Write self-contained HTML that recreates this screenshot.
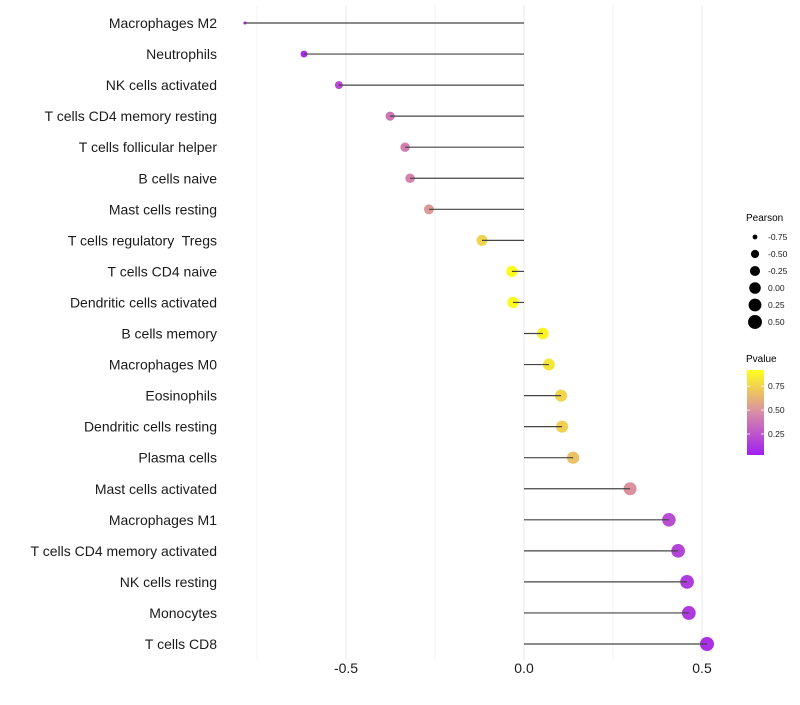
<!DOCTYPE html>
<html><head><meta charset="utf-8"><style>body{margin:0;background:#fff}svg{font-family:"Liberation Sans",sans-serif}text{white-space:pre}</style></head>
<body>
<svg id="chart" width="800" height="700" viewBox="0 0 800 700" xmlns="http://www.w3.org/2000/svg">
<g id="grid"></g>
<g id="pts"></g>
<g id="marks"></g>
<g id="ylab"></g>
<g id="xlab"></g>
<g id="sleg">
<text x="746" y="221" font-size="10" fill="#000">Pearson</text>
</g>
<g>
<defs><linearGradient id="pg" x1="0" y1="1" x2="0" y2="0"><stop offset="0" stop-color="#a01ff2"/><stop offset="0.5" stop-color="#d98ca6"/><stop offset="1" stop-color="#ffff1a"/></linearGradient></defs>
<text x="746" y="362" font-size="10" fill="#000">Pvalue</text>
<rect x="747" y="370" width="17" height="85" fill="url(#pg)"/>
<g id="cleg"></g>
</g>
</svg>
<script>
const categories=["Macrophages M2","Neutrophils","NK cells activated","T cells CD4 memory resting","T cells follicular helper","B cells naive","Mast cells resting","T cells regulatory  Tregs","T cells CD4 naive","Dendritic cells activated","B cells memory","Macrophages M0","Eosinophils","Dendritic cells resting","Plasma cells","Mast cells activated","Macrophages M1","T cells CD4 memory activated","NK cells resting","Monocytes","T cells CD8"];
const pearson=[-0.784,-0.618,-0.52,-0.376,-0.334,-0.32,-0.267,-0.118,-0.034,-0.031,0.053,0.07,0.104,0.107,0.138,0.298,0.407,0.433,0.458,0.463,0.514];
const pvalue=[0.04,0.08,0.2,0.38,0.42,0.44,0.52,0.75,0.9,0.9,0.87,0.82,0.76,0.74,0.68,0.5,0.22,0.18,0.15,0.14,0.1];
const xTicks=[-0.5,0,0.5];
const xTickLabels=["-0.5","0.0","0.5"];
const sizeLegend=[-0.75,-0.5,-0.25,0,0.25,0.5];
const sizeLegendLabels=["-0.75","-0.50","-0.25","0.00","0.25","0.50"];
const colorTicks=[0.25,0.5,0.75];
const NS="http://www.w3.org/2000/svg";
const x=v=>524+356*v;
const y=i=>23+i*31.05;
const pmin=Math.min(...pearson),pmax=Math.max(...pearson);
const r=v=>{const t=Math.max(0,(v-pmin)/(pmax-pmin));return 1.5+5.5*Math.sqrt(t);};
const py=p=>455-(p-0.03)/(0.92-0.03)*85;
function lerp(a,b,t){return a.map((c,i)=>Math.round(c+(b[i]-c)*t));}
function col(p){const t=Math.max(0,Math.min(1,(p-0.03)/0.89));const lo=[160,31,242],mid=[217,140,166],hi=[255,255,26];const c=t<0.5?lerp(lo,mid,t*2):lerp(mid,hi,(t-0.5)*2);return `rgb(${c})`;}
function mk(tag,attrs,parent,txt){const e=document.createElementNS(NS,tag);for(const k in attrs)e.setAttribute(k,attrs[k]);if(txt!==undefined)e.textContent=txt;document.getElementById(parent).appendChild(e);return e;}
const grid=[-0.75,-0.5,-0.25,0,0.25,0.5];
grid.forEach((g,i)=>{const e=mk('line',{x1:x(g),x2:x(g),y1:5,y2:660,stroke:'#ebebeb','stroke-width':(i%2?1.1:0.6)},'grid');

});
categories.forEach((c,i)=>{
const d=mk('circle',{cx:x(pearson[i]),cy:y(i),r:r(pearson[i]),fill:col(pvalue[i])},'pts');


const l=mk('line',{x1:x(0),x2:x(pearson[i]),y1:y(i),y2:y(i),stroke:'#444','stroke-width':1.2},'marks');


const t=mk('text',{x:217,y:y(i)+5,'text-anchor':'end','font-size':14,fill:'#1a1a1a'},'ylab',c);


});
xTicks.forEach((v,i)=>{const t=mk('text',{x:x(v),y:673,'text-anchor':'middle','font-size':14,fill:'#1a1a1a'},'xlab',xTickLabels[i]);

});
sizeLegend.forEach((v,i)=>{const cy=237+i*17;
const c=mk('circle',{cx:755,cy:cy,r:r(v),fill:'#000'},'sleg');


const t=mk('text',{x:768,y:cy+3,'font-size':8.5,fill:'#1a1a1a'},'sleg',sizeLegendLabels[i]);

});
colorTicks.forEach(p=>{const yy=py(p);
const a=mk('line',{x1:747,x2:750,y1:yy,y2:yy,stroke:'#fff','stroke-width':0.8},'cleg');


const b=mk('line',{x1:761,x2:764,y1:yy,y2:yy,stroke:'#fff','stroke-width':0.8},'cleg');


const t=mk('text',{x:768,y:yy+3,'font-size':8.5,fill:'#1a1a1a'},'cleg',p.toFixed(2));

});
</script>
</body></html>
